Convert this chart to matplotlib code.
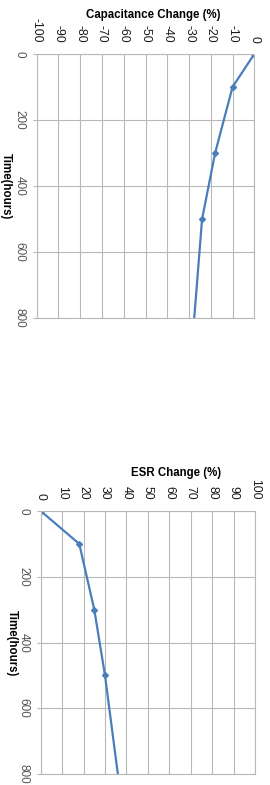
import numpy as np
import matplotlib.pyplot as plt

plt.rcParams['font.family'] = ['Liberation Sans', 'DejaVu Sans']

# data (time in hours, change in %)
time_hours = [0, 100, 300, 500, 1000]
cap_change = [0, -10, -18, -24, -30]
esr_change = [0, 18, 25, 30, 40]

cap_ticks = list(range(-100, 1, 10))
esr_ticks = list(range(0, 101, 10))
time_ticks = [0, 200, 400, 600, 800]

W, H = 270, 785
fig = plt.figure(figsize=(W / 100, H / 100), dpi=100)

line_col = '#4a7ebb'
grid_col = '#b8b8b8'


def make_axes(rect, values, xlim, xticks):
    ax = fig.add_axes(rect)
    ax.plot(values, time_hours, color=line_col, lw=1.6, marker='D', markersize=3,
            clip_on=True)
    ax.set_xlim(*xlim)
    ax.set_ylim(800, 0)
    ax.set_xticks(xticks)
    ax.set_yticks(time_ticks)
    ax.xaxis.tick_top()
    ax.set_xticklabels([str(t) for t in xticks], rotation=-90, fontsize=8.8, color='#1a1a1a')
    ax.set_yticklabels([str(t) for t in time_ticks], rotation=-90, fontsize=8.5,
                       color='#555555', va='center')
    ax.tick_params(axis='x', length=0, pad=8)
    ax.tick_params(axis='y', length=3, pad=5, color=grid_col)
    ax.grid(True, color=grid_col, lw=0.8)
    ax.set_axisbelow(True)
    for s in ax.spines.values():
        s.set_color(grid_col)
        s.set_linewidth(0.8)
    return ax


# capacitance chart (top)
make_axes([36.7 / W, 1 - 318 / H, 217.6 / W, 264 / H], cap_change, (-100, 0), cap_ticks)
fig.text(153 / W, 1 - 15 / H, 'Capacitance Change (%)', ha='center', va='center',
         fontsize=8.3, fontweight='bold')
fig.text(6 / W, 1 - 186 / H, 'Time(hours)', ha='center', va='center', rotation=-90,
         fontsize=8.3, fontweight='bold')

# ESR chart (bottom)
make_axes([40.7 / W, 1 - 774 / H, 214.3 / W, 263 / H], esr_change, (0, 100), esr_ticks)
fig.text(176 / W, 1 - 473 / H, 'ESR Change (%)', ha='center', va='center',
         fontsize=8.3, fontweight='bold')
fig.text(12 / W, 1 - 643 / H, 'Time(hours)', ha='center', va='center', rotation=-90,
         fontsize=8.3, fontweight='bold')

fig.savefig('out.png', dpi=100)
